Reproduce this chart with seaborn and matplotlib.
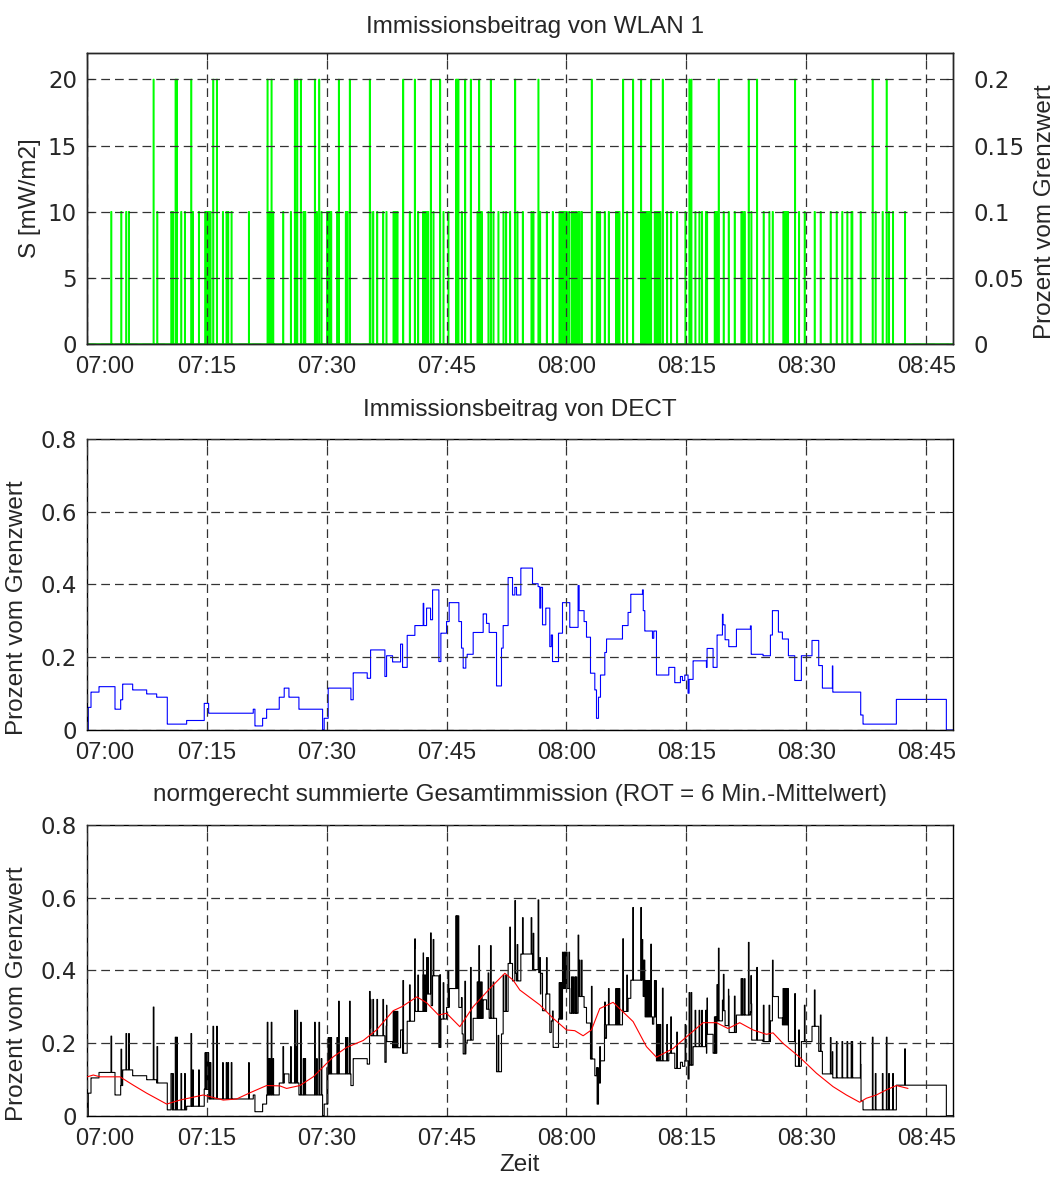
import numpy as np
import pandas as pd
import matplotlib
matplotlib.use("Agg")
import matplotlib.pyplot as plt
import matplotlib.transforms as mtransforms
import seaborn as sns

# ---------------------------------------------------------------------------
# Measurement data (time in minutes after 07:00)
# ---------------------------------------------------------------------------
t_end = 108.33

# WLAN 1 bursts: start time [min] and power density S [mW/m2]
wlan_t = [3.04, 4.29, 4.91, 5.25, 8.33, 8.79, 10.54, 10.62, 10.75, 11.08, 11.25, 11.79,
          12.25, 13.04, 13.25, 14.0, 14.79, 14.9, 15.0, 15.1, 15.2, 15.35, 15.45, 15.79,
          16.25, 17.0, 17.45, 17.66, 18.08, 20.25,
          22.58, 22.7, 22.87, 23.08, 23.29, 24.54, 25.5, 26.0, 26.1, 26.29, 26.75, 27.08,
          27.2, 27.29, 28.5, 28.75, 29.04, 29.33, 30.04, 30.15, 30.29, 30.4, 30.54, 31.29,
          31.5, 32.37, 32.58, 32.87, 35.37, 35.45, 35.79, 36.29, 37.04, 37.45, 38.33,
          38.45, 38.58, 38.7, 38.83, 39.54, 40.37, 41.0, 41.41, 42.04, 42.2, 42.33, 42.5,
          42.66, 43.0,
          43.33, 44.16, 44.58, 45.2, 46.16, 46.3, 46.45, 46.87, 47.29, 48.0, 48.83, 48.95,
          49.04, 49.2, 49.37, 50.2, 50.5, 50.83, 51.45, 52.08, 52.41, 52.91, 53.54, 53.83,
          54.5, 55.58, 55.83, 56.45, 56.66, 57.5, 58.25, 59.08, 59.2, 59.37, 59.5, 59.7,
          59.85, 60.0, 60.3, 60.62, 60.8, 61.04, 61.2, 61.45, 61.6, 61.87, 63.12, 63.75,
          63.9, 64.16,
          64.75, 65.25, 66.16, 66.3, 66.45, 66.58, 67.04, 67.54, 68.29, 69.29, 69.45,
          69.62, 69.75, 69.91, 70.1, 70.25, 70.4, 70.54, 71.0, 71.15, 71.33, 71.5, 71.7,
          72.0, 72.54, 73.04, 73.79, 74.83, 75.33, 75.58, 76.08, 76.58, 76.91, 77.4,
          77.54, 78.5, 78.65, 78.79, 79.0, 79.62, 80.25, 81.0, 81.83, 82.0, 82.25, 82.75,
          83.08, 83.79, 84.62, 85.33, 85.75,
          87.08, 87.2, 87.37, 87.5, 87.66, 88.54, 89.04, 89.75, 91.0, 91.75, 93.0, 93.75,
          94.45, 95.08, 95.6, 95.7, 96.75, 98.25, 98.62, 99.5, 100.0, 100.29, 100.79,
          102.29]
wlan_s = [10, 10, 10, 10, 20, 10, 10, 10, 10, 20, 20, 10,
          10, 20, 10, 10, 10, 10, 10, 10, 10, 10, 10, 20,
          20, 10, 10, 10, 10, 10,
          20, 10, 10, 20, 10, 10, 10, 20, 10, 20, 20, 10,
          10, 10, 20, 10, 20, 10, 10, 10, 10, 10, 10, 10,
          20, 10, 10, 20, 20, 10, 10, 10, 10, 10, 10,
          10, 10, 10, 10, 20, 10, 20, 10, 10, 10, 10, 10,
          10, 20,
          10, 20, 10, 10, 20, 20, 20, 10, 20, 20, 10, 10,
          20, 10, 10, 10, 20, 10, 10, 10, 10, 10, 20, 10,
          10, 10, 10, 20, 10, 10, 10, 10, 10, 10, 10, 10,
          10, 10, 10, 10, 10, 10, 10, 10, 10, 10, 20, 10,
          10, 10,
          10, 10, 10, 10, 10, 10, 20, 10, 20, 20, 10,
          10, 10, 10, 10, 10, 10, 20, 10, 10, 10, 10, 10,
          20, 10, 10, 10, 10, 20, 20, 10, 10, 10, 10,
          10, 10, 10, 10, 20, 10, 10, 10, 10, 10, 10, 20,
          10, 20, 10, 10, 10,
          10, 10, 10, 10, 10, 20, 10, 10, 10, 10, 10, 10,
          10, 10, 10, 10, 10, 20, 10, 10, 20, 10, 10,
          10]
wlan_pulse = 0.08          # burst duration [min]
wlan_pct_per_mw = 0.01     # 20 mW/m2 corresponds to 0.2 % of the limit

# DECT contribution: level changes (start time [min], percent of limit)
dect_t = [0.05, 0.2, 0.54, 1.54, 3.54, 4.25, 4.5, 5.75, 7.5, 8.75,
          10.08, 12.5, 14.7, 15.25, 20.83, 21.04, 22.0, 22.5, 24.08, 24.7,
          25.29, 26.54, 29.5, 29.7, 30.2, 33.04, 33.33, 35.08, 35.5, 37.29,
          37.5, 38.25, 39.25, 39.5, 40.08, 41.04, 42.08, 42.15, 42.5, 43.0,
          43.25, 44.04, 44.29, 45.0, 45.33, 46.54, 46.87, 47.08, 47.41, 47.58,
          48.33, 49.58, 50.0, 50.33, 51.25, 51.87, 52.08, 52.7, 53.25, 53.54,
          53.75, 54.29, 55.75, 56.45, 56.66, 56.79, 57.0, 57.41, 57.91, 58.1,
          58.25, 59.0, 59.5, 60.41, 61.45, 61.58, 62.2, 62.5, 63.0, 63.54,
          63.75, 64.0, 64.25, 64.79, 65.0, 67.0, 67.7, 68.04, 69.5, 69.6,
          69.79, 70.75, 70.91, 71.25, 72.79, 73.54, 74.25, 74.5, 74.79, 75.2,
          75.33, 75.83, 77.5, 77.58, 78.33, 78.83, 79.5, 79.58, 79.83, 80.29,
          81.25, 83.0, 83.1, 84.58, 85.5, 85.75, 86.5, 87.0, 87.75, 88.54,
          89.37, 90.7, 91.54, 92.0, 93.25, 93.3, 96.79, 97.08, 101.25, 107.5]
dect_v = [0.0, 0.062, 0.104, 0.119, 0.057, 0.083, 0.126, 0.110, 0.099, 0.090,
          0.016, 0.026, 0.073, 0.046, 0.057, 0.011, 0.032, 0.057, 0.090, 0.115,
          0.090, 0.057, 0.0, 0.032, 0.115, 0.083, 0.157, 0.142, 0.220, 0.147,
          0.204, 0.187, 0.236, 0.172, 0.260, 0.287, 0.348, 0.287, 0.335, 0.303,
          0.385, 0.188, 0.266, 0.298, 0.350, 0.298, 0.225, 0.170, 0.200, 0.208,
          0.268, 0.319, 0.293, 0.268, 0.121, 0.225, 0.287, 0.419, 0.371, 0.392,
          0.371, 0.445, 0.402, 0.394, 0.335, 0.392, 0.289, 0.335, 0.229, 0.261,
          0.188, 0.266, 0.350, 0.282, 0.397, 0.328, 0.298, 0.255, 0.156, 0.110,
          0.032, 0.090, 0.151, 0.213, 0.250, 0.287, 0.323, 0.373, 0.385, 0.328,
          0.272, 0.252, 0.272, 0.151, 0.172, 0.130, 0.147, 0.136, 0.151, 0.101,
          0.139, 0.190, 0.172, 0.224, 0.172, 0.261, 0.318, 0.289, 0.248, 0.229,
          0.277, 0.286, 0.208, 0.204, 0.261, 0.328, 0.269, 0.250, 0.204, 0.136,
          0.204, 0.246, 0.177, 0.115, 0.176, 0.104, 0.041, 0.016, 0.084, 0.0]

# 6-minute running mean of the total exposure (red curve)
avg_t = [0.08, 0.83, 1.66, 4.16, 5.83, 7.5, 10.0, 11.66, 14.58, 15.83, 17.08, 18.75,
         20.41, 22.5, 24.16, 25.0, 26.66, 28.33, 30.83, 32.5, 34.58, 36.25, 38.33,
         39.41, 41.29, 42.5, 44.0, 45.0, 46.66, 48.33, 50.41, 52.29, 53.33, 54.16,
         56.66, 58.33, 60.0, 61.04, 62.08, 63.12, 64.16, 65.83, 68.33, 70.0, 71.25,
         73.33, 75.0, 77.08, 78.75, 80.2, 81.66, 83.33, 85.0, 85.83, 87.08, 89.16,
         91.25, 93.33, 95.0, 96.66, 97.5, 98.75, 100.0, 101.25, 102.7]
avg_v = [0.107, 0.112, 0.107, 0.107, 0.084, 0.062, 0.032, 0.043, 0.057, 0.050, 0.043,
         0.046, 0.063, 0.083, 0.082, 0.075, 0.083, 0.107, 0.162, 0.188, 0.207, 0.236,
         0.289, 0.300, 0.327, 0.311, 0.277, 0.282, 0.245, 0.300, 0.350, 0.392, 0.373,
         0.346, 0.305, 0.268, 0.236, 0.234, 0.220, 0.236, 0.295, 0.312, 0.259, 0.190,
         0.161, 0.185, 0.217, 0.256, 0.256, 0.240, 0.256, 0.236, 0.224, 0.228, 0.199,
         0.161, 0.117, 0.080, 0.057, 0.037, 0.048, 0.057, 0.071, 0.083, 0.075]

tick_min = [0, 15, 30, 45, 60, 75, 90, 105]
tick_lbl = ["07:00", "07:15", "07:30", "07:45", "08:00", "08:15", "08:30", "08:45"]

# ---------------------------------------------------------------------------
# Step series on a fine time base
# ---------------------------------------------------------------------------
t_grid = np.round(np.arange(0.0, t_end, 0.01), 4)

wlan_grid = np.zeros_like(t_grid)
for t0, s in zip(wlan_t, wlan_s):
    sel = (t_grid >= t0) & (t_grid < t0 + wlan_pulse)
    wlan_grid[sel] = np.maximum(wlan_grid[sel], s)

dect_arr_t = np.asarray(dect_t)
dect_arr_v = np.asarray(dect_v)
idx = np.searchsorted(dect_arr_t, t_grid, side="right") - 1
dect_grid = np.where(idx >= 0, dect_arr_v[np.clip(idx, 0, None)], 0.0)

total_grid = dect_grid + wlan_grid * wlan_pct_per_mw

df = pd.DataFrame({"t": t_grid, "wlan": wlan_grid, "dect": dect_grid, "total": total_grid})
df_avg = pd.DataFrame({"t": avg_t, "avg": avg_v})

# ---------------------------------------------------------------------------
# Figure
# ---------------------------------------------------------------------------
sns.set_style("white")
plt.rcParams["font.family"] = ["Liberation Sans", "DejaVu Sans"]
plt.rcParams["axes.unicode_minus"] = False

FS_TICK_Y = 16.5
FS_TICK_X = 17
FS_TITLE = 17.5
FS_LABEL = 17.5
WIDE = ["DejaVu Sans"]

fig = plt.figure(figsize=(10.61, 11.80), dpi=100)
ax1 = fig.add_axes([0.0817, 0.7085, 0.8165, 0.2466])
ax2 = fig.add_axes([0.0817, 0.3814, 0.8165, 0.2466])
ax3 = fig.add_axes([0.0817, 0.0545, 0.8165, 0.2463])

grid_kw = dict(color="#333333", linestyle=(0, (7, 4)), linewidth=0.9)


def style_time_axis(ax):
    ax.set_xlim(0, t_end)
    ax.set_xticks(tick_min)
    ax.set_xticklabels(tick_lbl, fontsize=FS_TICK_X)
    ax.grid(True, **grid_kw)
    ax.set_axisbelow(False)
    ax.tick_params(direction="in", length=5, width=0.8, top=True, right=True, pad=7)
    ax.tick_params(axis="x", labelsize=FS_TICK_X, pad=9)
    for lbl in ax.get_yticklabels():
        lbl.set_fontfamily(WIDE)
        lbl.set_fontsize(FS_TICK_Y)
    for sp in ax.spines.values():
        sp.set_linewidth(1.0)
        sp.set_color("black")
    ax.set_xlabel("")
    # the first hour label sits slightly right of the axis edge
    labels = ax.get_xticklabels()
    off = mtransforms.ScaledTranslation(18 / 100, 0, fig.dpi_scale_trans)
    labels[0].set_transform(labels[0].get_transform() + off)


# --- WLAN 1 ---------------------------------------------------------------
sns.lineplot(data=df, x="t", y="wlan", ax=ax1, color="#00ff00", linewidth=1.0,
             drawstyle="steps-post", estimator=None, sort=False)
ax1.set_ylim(0, 22)
ax1.set_yticks([0, 5, 10, 15, 20])
ax1.set_yticklabels(["0", "5", "10", "15", "20"])
style_time_axis(ax1)
ax1.tick_params(right=False)
ax1.set_ylabel("S [mW/m2]", fontsize=FS_LABEL, va="center")
ax1.yaxis.set_label_coords(-0.0655, 0.5)
ax1.text(0.517, 1.089, "Immissionsbeitrag von WLAN 1", transform=ax1.transAxes,
         ha="center", va="center", fontsize=FS_TITLE)

ax1r = ax1.twinx()
ax1r.set_ylim(0, 0.22)
ax1r.set_yticks([0, 0.05, 0.1, 0.15, 0.2])
ax1r.set_yticklabels(["0", "0.05", "0.1", "0.15", "0.2"])
ax1r.tick_params(direction="in", length=5, width=0.8, pad=15)
for lbl in ax1r.get_yticklabels():
    lbl.set_fontfamily(WIDE)
    lbl.set_fontsize(FS_TICK_Y)
ax1r.set_ylabel("Prozent vom Grenzwert", fontsize=FS_LABEL, va="center")
ax1r.yaxis.set_label_coords(1.106, 0.455)
for sp in ax1r.spines.values():
    sp.set_linewidth(1.0)

# --- DECT -----------------------------------------------------------------
sns.lineplot(data=df, x="t", y="dect", ax=ax2, color="#0000ff", linewidth=0.8,
             drawstyle="steps-post", estimator=None, sort=False)
ax2.set_ylim(0, 0.8)
ax2.set_yticks([0, 0.2, 0.4, 0.6, 0.8])
ax2.set_yticklabels(["0", "0.2", "0.4", "0.6", "0.8"])
style_time_axis(ax2)
ax2.set_ylabel("Prozent vom Grenzwert", fontsize=FS_LABEL, va="center")
ax2.yaxis.set_label_coords(-0.0805, 0.42)
ax2.text(0.5, 1.10, "Immissionsbeitrag von DECT", transform=ax2.transAxes,
         ha="center", va="center", fontsize=FS_TITLE)

# --- Total ----------------------------------------------------------------
sns.lineplot(data=df, x="t", y="total", ax=ax3, color="black", linewidth=0.8,
             drawstyle="steps-post", estimator=None, sort=False)
sns.lineplot(data=df_avg, x="t", y="avg", ax=ax3, color="#ff0000", linewidth=0.8,
             estimator=None, sort=False, zorder=4)
ax3.set_ylim(0, 0.8)
ax3.set_yticks([0, 0.2, 0.4, 0.6, 0.8])
ax3.set_yticklabels(["0", "0.2", "0.4", "0.6", "0.8"])
style_time_axis(ax3)
ax3.set_ylabel("Prozent vom Grenzwert", fontsize=FS_LABEL, va="center")
ax3.yaxis.set_label_coords(-0.0805, 0.42)
ax3.set_xlabel("Zeit", fontsize=FS_LABEL, labelpad=3)
ax3.text(0.5, 1.103, "normgerecht summierte Gesamtimmission (ROT = 6 Min.-Mittelwert)",
         transform=ax3.transAxes, ha="center", va="center", fontsize=FS_TITLE)

fig.savefig("out.png", dpi=100)
